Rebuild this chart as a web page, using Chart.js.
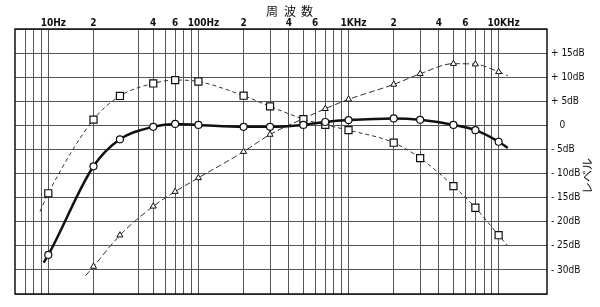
<!DOCTYPE html>
<html>
<head>
<meta charset="utf-8">
<script src="https://cdn.jsdelivr.net/npm/chart.js"></script>
<style>
  body { margin: 0; background: #fff; }
  #chart { display: block; }
</style>
</head>
<body>
<canvas id="chart" width="600" height="307"></canvas>
<script>
// 周波数特性 (frequency in Hz, level in dB)
const freqSolid = [9.3, 10, 20, 30, 50, 70, 100, 200, 300, 500, 700, 1000, 2000, 3000, 5000, 7000, 10000, 11500];
const levelSolid = [-28.5, -26.9, -8.5, -2.9, -0.3, 0.3, 0.1, -0.3, -0.3, 0.1, 0.7, 1.1, 1.45, 1.15, 0.1, -1.0, -3.4, -4.7];

const freqSquare = [8.8, 10, 20, 30, 50, 70, 100, 200, 300, 500, 700, 1000, 2000, 3000, 5000, 7000, 10000, 11500];
const levelSquare = [-17.9, -14.1, 1.2, 6.1, 8.7, 9.4, 9.1, 6.15, 3.95, 1.3, 0.1, -1.0, -3.6, -6.8, -12.6, -17.1, -22.8, -25.0];

const freqTriangle = [17.7, 20, 30, 50, 70, 100, 200, 300, 500, 700, 1000, 2000, 3000, 5000, 7000, 10000, 11500];
const levelTriangle = [-31.2, -29.3, -22.8, -16.8, -13.75, -10.9, -5.45, -1.9, 1.4, 3.45, 5.4, 8.5, 10.7, 12.8, 12.7, 11.1, 10.3];

// vertical grid lines of the chart paper
const gridFreqs = [7, 8, 9, 10, 20, 40, 50, 60, 70, 80, 90, 100, 200, 300, 400, 500, 600, 700, 800, 900,
  1000, 2000, 3000, 4000, 5000, 6000, 7000, 8000, 9000, 10000];
// frequency labels along the top, as printed
const xLabelFreqs = [10, 20, 50, 70, 100, 200, 400, 600, 1000, 2000, 4000, 6000, 10000];
const xLabelTexts = ['10Hz', '2', '4', '6', '100Hz', '2', '4', '6', '1KHz', '2', '4', '6', '10KHz'];

const title = '周波数';
const yTitle = 'レベル';

function toPoints(xs, ys) {
  return xs.map((x, i) => ({ x: x, y: ys[i] }));
}

// no marker on the first/last point, the curve just runs on a little
function endless(ctx) {
  const n = ctx.dataset.data.length;
  return (ctx.dataIndex === 0 || ctx.dataIndex === n - 1) ? 0 : ctx.dataset.markSize;
}

const paperPlugin = {
  id: 'paper',
  beforeDraw(chart) {
    const c = chart.ctx;
    c.save();
    c.fillStyle = '#fff';
    c.fillRect(0, 0, chart.width, chart.height);
    c.restore();
  },
  afterDatasetsDraw(chart) {
    const c = chart.ctx;
    const a = chart.chartArea;
    const xs = chart.scales.x;
    c.save();
    // frame
    c.strokeStyle = '#111';
    c.lineWidth = 1.5;
    c.strokeRect(a.left, a.top, a.right - a.left, a.bottom - a.top);

    // top labels
    c.fillStyle = '#111';
    c.font = 'bold 10px "Liberation Sans Narrow", "DejaVu Sans Condensed", sans-serif';
    c.textAlign = 'center';
    c.textBaseline = 'middle';
    xLabelFreqs.forEach((f, i) => {
      const t = xLabelTexts[i];
      const shift = t.length > 1 ? 5 : 0;
      c.fillText(t, xs.getPixelForValue(f) + shift, 23);
    });

    // title, spaced out
    c.font = '12px "Noto Sans CJK JP", sans-serif';
    const tx = [272, 290, 307];
    for (let i = 0; i < title.length; i++) c.fillText(title[i], tx[i], 11);

    // right side title, reads bottom to top
    c.translate(587, 176);
    c.rotate(-Math.PI / 2);
    c.fillText(yTitle, 0, 0);
    c.restore();
  }
};

new Chart(document.getElementById('chart'), {
  type: 'line',
  data: {
    datasets: [
      {
        data: toPoints(freqSolid, levelSolid),
        borderColor: '#111',
        borderWidth: 2.5,
        pointStyle: 'circle',
        markSize: 3.5,
        pointRadius: endless,
        pointBackgroundColor: '#fff',
        pointBorderColor: '#111',
        pointBorderWidth: 1.2,
        cubicInterpolationMode: 'monotone'
      },
      {
        data: toPoints(freqSquare, levelSquare),
        borderColor: '#333',
        borderWidth: 1,
        borderDash: [4, 3],
        pointStyle: 'rect',
        markSize: 5,
        pointRadius: endless,
        pointBackgroundColor: '#fff',
        pointBorderColor: '#111',
        pointBorderWidth: 1.2,
        cubicInterpolationMode: 'monotone'
      },
      {
        data: toPoints(freqTriangle, levelTriangle),
        borderColor: '#333',
        borderWidth: 1,
        borderDash: [6, 3],
        pointStyle: 'triangle',
        markSize: 3.5,
        pointRadius: endless,
        pointBackgroundColor: '#fff',
        pointBorderColor: '#111',
        pointBorderWidth: 1,
        cubicInterpolationMode: 'monotone'
      }
    ]
  },
  options: {
    responsive: false,
    animation: false,
    devicePixelRatio: 1,
    layout: { padding: { left: 15, bottom: 13, top: 0, right: 0 } },
    plugins: {
      legend: { display: false },
      tooltip: { enabled: false }
    },
    scales: {
      x: {
        type: 'logarithmic',
        position: 'top',
        min: 6,
        max: 21000,
        afterBuildTicks: s => { s.ticks = gridFreqs.map(v => ({ value: v })); },
        afterFit: s => { s.height = 29; },
        ticks: { display: false },
        grid: { color: '#555', lineWidth: 1, drawTicks: false },
        border: { display: false }
      },
      y: {
        position: 'right',
        min: -35,
        max: 20,
        afterFit: s => { s.width = 53; },
        ticks: {
          stepSize: 5,
          autoSkip: false,
          padding: 4,
          color: '#111',
          font: { family: '"Liberation Sans Narrow", "DejaVu Sans Condensed", sans-serif', size: 10 },
          callback: v => {
            if (v >= 20 || v <= -35) return '';
            if (v === 0) return '   0';
            return (v > 0 ? '+ ' : '- ') + Math.abs(v) + 'dB';
          }
        },
        grid: { color: '#555', lineWidth: 1, drawTicks: false },
        border: { display: false }
      }
    }
  },
  plugins: [paperPlugin]
});
</script>
</body>
</html>
